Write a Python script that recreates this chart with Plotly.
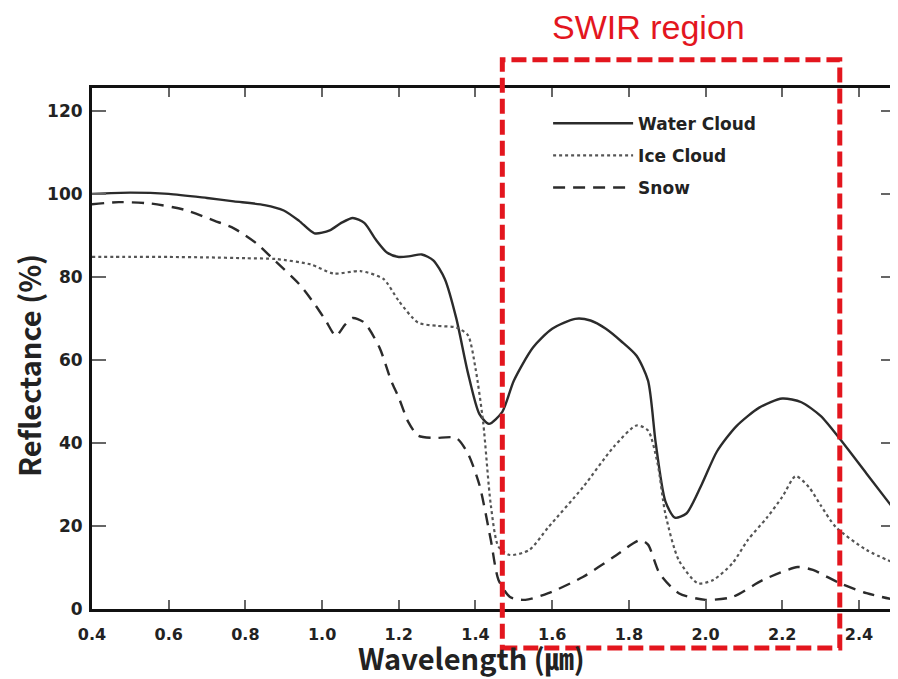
import plotly.graph_objects as go

# ---------------- data ----------------
water_x = [0.40, 0.50, 0.60, 0.70, 0.77, 0.85, 0.90, 0.94, 0.98, 1.02, 1.05, 1.08, 1.11, 1.14, 1.17, 1.20,
           1.23, 1.26, 1.29, 1.32, 1.35, 1.38, 1.41, 1.435, 1.47, 1.50, 1.55, 1.60, 1.66, 1.70, 1.74,
           1.78, 1.82, 1.85, 1.87, 1.895, 1.92, 1.95, 1.99, 2.03, 2.08, 2.14, 2.20, 2.25, 2.30, 2.35,
           2.42, 2.494]
water_y = [100.0, 100.3, 100.0, 99.0, 98.2, 97.3, 96.0, 93.5, 90.5, 91.2, 93.0, 94.2, 93.0, 89.0, 85.8, 84.8,
           85.0, 85.4, 84.0, 79.5, 70.0, 57.0, 47.0, 44.6, 47.5, 55.0, 63.0, 67.5, 69.9, 69.5, 67.5,
           64.5, 61.0, 55.0, 40.0, 26.0, 22.0, 23.0, 30.0, 38.0, 44.0, 48.5, 50.7, 49.8, 46.5, 41.0,
           32.6, 23.7]

ice_x = [0.40, 0.50, 0.60, 0.70, 0.80, 0.88, 0.97, 1.03, 1.10, 1.16, 1.20, 1.25, 1.30, 1.35, 1.38,
         1.40, 1.42, 1.44, 1.46, 1.49, 1.54, 1.59, 1.68, 1.76, 1.82, 1.85, 1.875, 1.895, 1.93, 1.98,
         2.02, 2.07, 2.11, 2.16, 2.20, 2.235, 2.27, 2.30, 2.34, 2.42, 2.494]
ice_y = [84.8, 84.8, 84.8, 84.7, 84.5, 84.3, 83.0, 80.8, 81.4, 79.5, 74.2, 69.0, 68.2, 67.8, 66.0,
         58.0, 45.0, 25.0, 15.0, 13.0, 14.2, 19.7, 29.3, 39.0, 44.2, 43.0, 35.0, 23.0, 11.8, 6.2,
         7.0, 11.0, 16.6, 22.0, 27.0, 32.0, 29.3, 25.0, 19.7, 14.2, 11.0]

snow_x = [0.40, 0.47, 0.55, 0.64, 0.72, 0.77, 0.83, 0.87, 0.94, 0.98, 1.01, 1.036, 1.06, 1.08, 1.11,
          1.15, 1.18, 1.20, 1.225, 1.25, 1.29, 1.35, 1.38, 1.41, 1.44, 1.46, 1.49, 1.53, 1.59,
          1.68, 1.76, 1.83, 1.85, 1.88, 1.93, 2.00, 2.07, 2.15, 2.24, 2.28, 2.35, 2.42, 2.494]
snow_y = [97.5, 98.0, 97.7, 96.2, 93.5, 91.7, 88.0, 84.5, 78.3, 73.5, 69.4, 65.8, 68.5, 70.1, 69.0,
          62.9, 55.0, 50.9, 45.0, 41.8, 41.2, 41.2, 37.5, 30.0, 16.6, 7.0, 2.9, 2.2, 3.8,
          7.7, 12.5, 16.6, 15.5, 8.6, 3.8, 2.2, 2.9, 7.0, 10.1, 9.4, 6.2, 3.8, 2.2]

series_names = ["Water Cloud", "Ice Cloud", "Snow"]
x_ticks = [0.4, 0.6, 0.8, 1.0, 1.2, 1.4, 1.6, 1.8, 2.0, 2.2, 2.4]
y_ticks = [0, 20, 40, 60, 80, 100, 120]
x_range = [0.4, 2.494]
y_range = [0, 125.5]
swir_band = [1.47, 2.35]

# ---------------- figure ----------------
FONT = "Noto Sans CJK KR, Noto Sans, sans-serif"
TICKFONT = "DejaVu Sans, sans-serif"
fig = go.Figure()
fig.add_trace(go.Scatter(x=water_x, y=water_y, name=series_names[0], mode="lines", legendgroup="a",
                         line=dict(color="#2b2b2b", width=2.4, shape="spline", smoothing=0.7)))
fig.add_trace(go.Scatter(x=ice_x, y=ice_y, name=series_names[1], mode="lines", legendgroup="b",
                         line=dict(color="#555555", width=2.2, dash="dot", shape="spline", smoothing=0.7)))
fig.add_trace(go.Scatter(x=snow_x, y=snow_y, name=series_names[2], mode="lines", legendgroup="c",
                         line=dict(color="#2b2b2b", width=2.4, dash="12px,8px", shape="spline", smoothing=0.7)))

fig.update_layout(
    width=890, height=671,
    margin=dict(l=84, r=0, t=80, b=70),
    paper_bgcolor="white", plot_bgcolor="white",
    font=dict(family=FONT, color="#222222"),
    showlegend=True,
    legend=dict(x=0.568, y=0.966, xanchor="left", yanchor="top",
                bgcolor="rgba(0,0,0,0)", itemwidth=80, tracegroupgap=7,
                font=dict(family=TICKFONT, size=17, weight="bold", color="#222222")),
)
fig.update_xaxes(range=x_range, tickvals=x_ticks, tickformat=".1f",
                 showline=True, linecolor="#111111", linewidth=3, mirror="ticks",
                 ticks="inside", ticklen=9, tickwidth=2, tickcolor="#666666",
                 showgrid=False, zeroline=False, ticklabelstandoff=9,
                 tickfont=dict(family=TICKFONT, size=16, weight="bold", color="#222222"))
fig.update_yaxes(range=y_range, tickvals=y_ticks,
                 showline=True, linecolor="#111111", linewidth=3, mirror="ticks",
                 ticks="inside", ticklen=14, tickwidth=2, tickcolor="#666666",
                 showgrid=False, zeroline=False, ticklabelstandoff=3,
                 tickfont=dict(family=TICKFONT, size=17, weight="bold", color="#222222"))

# paper-coordinate helper for the SWIR box (derived from the axis range)
def xpaper(v):
    return (v - x_range[0]) / (x_range[1] - x_range[0])

fig.add_shape(type="rect", xref="paper", yref="paper",
              x0=xpaper(swir_band[0]), x1=xpaper(swir_band[1]), y0=-0.075, y1=1.054,
              line=dict(color="#e3161e", width=5, dash="15px,6px"), fillcolor="rgba(0,0,0,0)",
              layer="above")

fig.add_annotation(text="SWIR region", xref="paper", yref="paper",
                   x=0.6935, y=1.118, borderpad=0,
                   showarrow=False, xanchor="center", yanchor="middle",
                   font=dict(family="Liberation Sans, Arial, sans-serif", size=34, color="#e3161e"))
fig.add_annotation(text="Wavelength (㎛)", xref="paper", yref="paper", x=0.472, y=-0.092, borderpad=0,
                   showarrow=False, xanchor="center", yanchor="middle",
                   font=dict(family=FONT, size=29, weight="bold", color="#222222"))
fig.add_annotation(text="Reflectance (%)", xref="paper", yref="paper", x=-0.079, y=0.468,
                   showarrow=False, xanchor="center", yanchor="middle", textangle=-90,
                   font=dict(family=FONT, size=29, weight="bold", color="#222222"))

fig.write_html("out.html")
